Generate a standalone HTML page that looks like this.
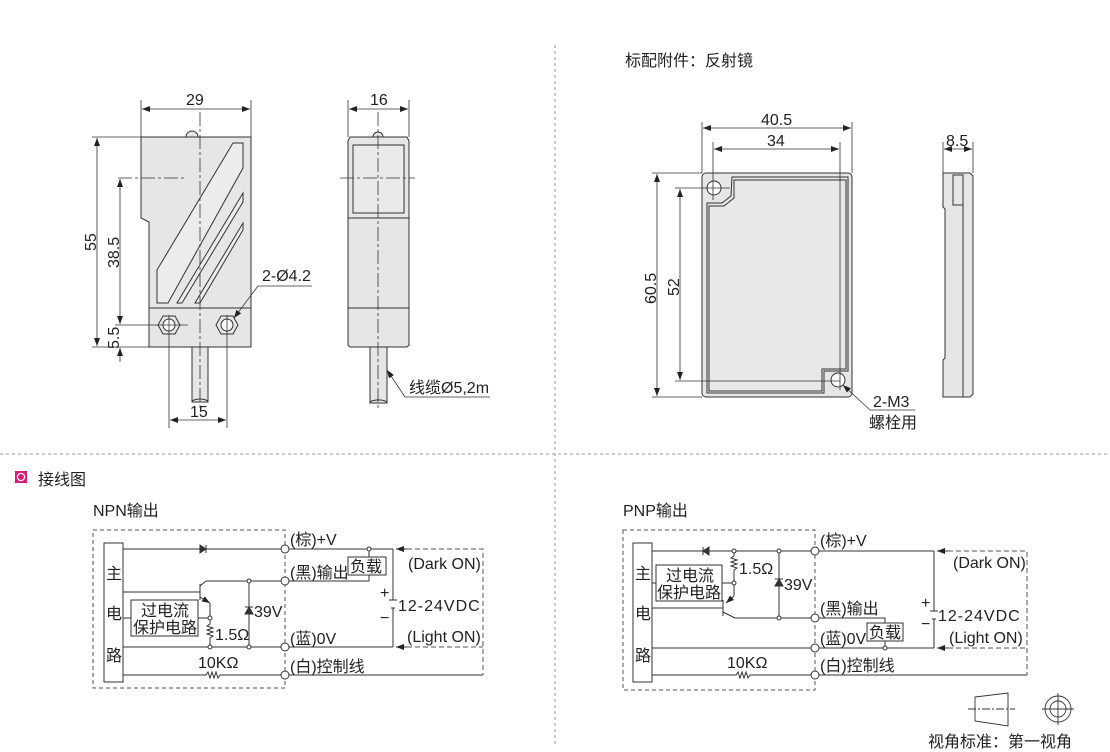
<!DOCTYPE html>
<html><head><meta charset="utf-8"><style>
html,body{margin:0;padding:0;background:#fff;}
svg{display:block;font-family:"Liberation Sans","Noto Sans CJK SC",sans-serif;}
text{fill:#222;font-size:16px;}
</style></head><body>
<svg width="1110" height="752" viewBox="0 0 1110 752" xmlns="http://www.w3.org/2000/svg">
<defs>
<marker id="a" markerWidth="8" markerHeight="6" refX="8" refY="3" orient="auto-start-reverse" markerUnits="userSpaceOnUse"><path d="M0,0 L8,3 L0,6 z" fill="#222"/></marker>
</defs>
<g stroke="#999" stroke-dasharray="3,3" fill="none">
<line x1="555" y1="45" x2="555" y2="745"/>
<line x1="0" y1="454" x2="1110" y2="454"/>
</g>

<!-- FRONT SENSOR -->
<g stroke="#333" stroke-width="1" fill="none">
<path d="M186,137 a6,6 0 0 1 12,0" fill="#e6e6e6"/>
<path d="M141,137 L251,137 L251,347 L149,347 L149,222 L141,218 Z" fill="#e6e6e6"/>
<line x1="149" y1="308" x2="251" y2="308"/>
<polygon points="157,270 233,143 243,143 243,168 168,303 157,303" fill="#ececec"/>
<polygon points="177,303 243,193 243,202 182,303" fill="#ececec"/>
<polygon points="195,303 243,223 243,230 200,303" fill="#ececec"/>
<polygon points="158,325 163,316 175,316 180,325 175,334 163,334" fill="#e6e6e6"/>
<circle cx="169" cy="325" r="6" fill="#fff"/>
<polygon points="216,325 221,316 233,316 238,325 233,334 221,334" fill="#e6e6e6"/>
<circle cx="227" cy="325" r="6" fill="#fff"/>
<rect x="192" y="347" width="16" height="55" fill="#e6e6e6"/>
<path d="M192,402 a8,3 0 0 1 16,0"/>
</g>
<g stroke="#333" stroke-width="0.8" fill="none">
<line x1="200" y1="112" x2="200" y2="410" stroke-dasharray="14,3,3,3"/>
<line x1="118" y1="178" x2="185" y2="178" stroke-dasharray="14,3,3,3"/>
<line x1="141" y1="100" x2="141" y2="137"/><line x1="251" y1="100" x2="251" y2="137"/>
<line x1="142" y1="109" x2="250" y2="109" marker-start="url(#a)" marker-end="url(#a)"/>
<line x1="92" y1="137" x2="141" y2="137"/><line x1="92" y1="347" x2="149" y2="347"/>
<line x1="97" y1="138" x2="97" y2="346" marker-start="url(#a)" marker-end="url(#a)"/>
<line x1="120" y1="179" x2="120" y2="324" marker-start="url(#a)" marker-end="url(#a)"/>
<line x1="115" y1="325" x2="188" y2="325"/>
<line x1="120" y1="362" x2="120" y2="348" marker-end="url(#a)"/>
<line x1="169" y1="315" x2="169" y2="428"/><line x1="227" y1="315" x2="227" y2="428"/>
<line x1="170" y1="420" x2="226" y2="420" marker-start="url(#a)" marker-end="url(#a)"/>
<line x1="312" y1="286" x2="258" y2="286"/><line x1="258" y1="286" x2="234" y2="318" marker-end="url(#a)"/>
</g>
<text x="186" y="105">29</text>
<text x="190" y="417">15</text>
<text transform="translate(96,251) rotate(-90)">55</text>
<text transform="translate(119,268) rotate(-90)">38.5</text>
<text transform="translate(119,349) rotate(-90)">5.5</text>
<text x="262" y="281">2-Ø4.2</text>

<!-- SIDE SENSOR -->
<g stroke="#333" stroke-width="1" fill="none">
<path d="M373,137 a5,5 0 0 1 10,0" fill="#e6e6e6"/>
<path d="M350,137 L407,137 L409,141 L409,345 L407,347 L350,347 L348,345 L348,141 Z" fill="#e6e6e6"/>
<rect x="353" y="145" width="51" height="68" fill="#eaeaea"/>
<line x1="348" y1="218" x2="409" y2="218"/>
<line x1="348" y1="308" x2="409" y2="308"/>
<rect x="370" y="347" width="17" height="56" fill="#e6e6e6"/>
<path d="M370,403 a8,3 0 0 1 17,0"/>
</g>
<g stroke="#333" stroke-width="0.8" fill="none">
<line x1="378" y1="112" x2="378" y2="410" stroke-dasharray="14,3,3,3"/>
<line x1="340" y1="178" x2="415" y2="178" stroke-dasharray="14,3,3,3"/>
<line x1="348" y1="100" x2="348" y2="137"/><line x1="409" y1="100" x2="409" y2="137"/>
<line x1="349" y1="109" x2="408" y2="109" marker-start="url(#a)" marker-end="url(#a)"/>
<line x1="490" y1="397" x2="405" y2="397"/><line x1="405" y1="397" x2="387" y2="370" marker-end="url(#a)"/>
</g>
<text x="370" y="105">16</text>
<text x="409" y="393">线缆Ø5,2m</text>

<!-- REFLECTOR -->
<text x="625" y="66" font-size="15.5">标配附件：反射镜</text>
<g stroke="#333" stroke-width="1" fill="none">
<rect x="702" y="173" width="150" height="224" rx="4" fill="#e6e6e6"/>
<path d="M709,206 L709,391 L822,391 L822,369 L846,369 L846,180 L734,180 L734,198 L724,206 Z" fill="#e8e8e8"/>
<path d="M707,203 L707,393 L824,393 L824,371 L848,371 L848,177 L732,177 L731,196 L722,203 Z"/>
<circle cx="714" cy="188" r="7" fill="#fff"/>
<circle cx="838" cy="380" r="7" fill="#fff"/>
<path d="M943,173 L970,173 L973,176 L973,394 L970,397 L943,397 L943,360 L945,358 L945,209 L943,207 Z" fill="#e6e6e6"/>
<line x1="963" y1="175" x2="963" y2="397"/>
<rect x="953" y="175" width="10" height="30"/>
</g>
<g stroke="#333" stroke-width="0.8" fill="none">
<line x1="702" y1="122" x2="702" y2="173"/><line x1="852" y1="122" x2="852" y2="173"/>
<line x1="703" y1="128" x2="851" y2="128" marker-start="url(#a)" marker-end="url(#a)"/>
<line x1="713" y1="142" x2="713" y2="200"/><line x1="840" y1="142" x2="840" y2="390"/>
<line x1="714" y1="149" x2="839" y2="149" marker-start="url(#a)" marker-end="url(#a)"/>
<line x1="652" y1="173" x2="702" y2="173"/><line x1="652" y1="397" x2="702" y2="397"/>
<line x1="657" y1="174" x2="657" y2="396" marker-start="url(#a)" marker-end="url(#a)"/>
<line x1="675" y1="188" x2="730" y2="188"/><line x1="675" y1="381" x2="840" y2="381"/>
<line x1="680" y1="189" x2="680" y2="380" marker-start="url(#a)" marker-end="url(#a)"/>
<line x1="943" y1="142" x2="943" y2="173"/><line x1="973" y1="142" x2="973" y2="173"/>
<line x1="944" y1="149" x2="972" y2="149" marker-start="url(#a)" marker-end="url(#a)"/>
<line x1="915" y1="410" x2="870" y2="410"/><line x1="870" y1="410" x2="843" y2="385" marker-end="url(#a)"/>
</g>
<text x="761" y="125">40.5</text>
<text x="767" y="146">34</text>
<text x="946" y="146">8.5</text>
<text transform="translate(656,304) rotate(-90)">60.5</text>
<text transform="translate(679,296) rotate(-90)">52</text>
<text x="873" y="407">2-M3</text>
<text x="869" y="428">螺栓用</text>

<!-- Wiring header -->
<rect x="15" y="471" width="12" height="12" fill="#d81b72"/>
<circle cx="21" cy="477" r="3.6" fill="none" stroke="#fff" stroke-width="1.3"/>
<text x="38" y="485" font-size="15.5">接线图</text>
<text x="93" y="516" font-size="15.5">NPN输出</text>
<text x="623" y="516" font-size="15.5">PNP输出</text>

<!-- NPN -->
<g stroke="#333" stroke-width="1" fill="none">
<rect x="93" y="530" width="192" height="158" stroke-dasharray="4,3" stroke="#555"/>
<rect x="104" y="543" width="19" height="139" fill="#fff"/>
<line x1="123" y1="549" x2="281" y2="549"/>
<path d="M206,545 L206,553 M206,549 L200,545 L200,553 Z" fill="#333"/>
<line x1="123" y1="592" x2="200" y2="592"/>
<line x1="200" y1="584" x2="200" y2="600"/>
<line x1="200" y1="586" x2="206" y2="581"/><line x1="206" y1="581" x2="281" y2="581"/>
<line x1="200" y1="597" x2="210" y2="603" marker-end="url(#a)"/><line x1="210" y1="603" x2="210" y2="618"/>
<rect x="131" y="600" width="67" height="36" fill="#fff"/>
<line x1="123" y1="618" x2="131" y2="618"/><line x1="198" y1="618" x2="210" y2="618"/>
<path d="M210,618 L210,624 l-3,2 6,2 -6,2 6,2 -6,2 6,2 -3,2 L210,647"/>
<line x1="123" y1="647" x2="281" y2="647"/>
<line x1="249" y1="581" x2="249" y2="647"/>
<path d="M245,607 L253,607 M249,607 L245,614 L253,614 Z" fill="#333"/>
<path d="M123,675 L206,675 l2,-3 2,6 2,-6 2,6 2,-6 2,6 2,-3 L281,675"/>
<line x1="289" y1="549" x2="393" y2="549"/>
<rect x="348" y="557" width="38" height="18" fill="#fff"/>
<line x1="369" y1="549" x2="369" y2="557"/>
<path d="M369,575 L369,581 L289,581"/>
<line x1="289" y1="647" x2="393" y2="647"/>
<line x1="289" y1="675" x2="483" y2="675"/>
<path d="M393,549 L393,600 M393,608 L393,647"/>
<line x1="389" y1="600" x2="397" y2="600"/><line x1="391" y1="608" x2="395" y2="608"/>
<line x1="407" y1="549" x2="396" y2="549" marker-end="url(#a)"/>
<line x1="407" y1="647" x2="396" y2="647" marker-end="url(#a)"/>
<path d="M407,549 L483,549 L483,675 M407,647 L483,647" stroke-dasharray="5,3" stroke="#555"/>
</g>
<g fill="#fff" stroke="#333"><circle cx="285" cy="549" r="4"/><circle cx="285" cy="581" r="4"/><circle cx="285" cy="647" r="4"/><circle cx="285" cy="675" r="4"/>
<circle cx="249" cy="581" r="2"/><circle cx="210" cy="618" r="2"/><circle cx="210" cy="647" r="2"/><circle cx="249" cy="647" r="2"/><circle cx="369" cy="549" r="2"/></g>
<text x="106" y="579">主</text><text x="106" y="619">电</text><text x="106" y="661">路</text>
<text x="141" y="616">过电流</text><text x="133" y="633">保护电路</text>
<text x="350" y="572">负载</text>
<text x="290" y="545">(棕)+V</text><text x="290" y="578">(黑)输出</text>
<text x="290" y="644">(蓝)0V</text><text x="290" y="672">(白)控制线</text>
<text x="254" y="617">39V</text><text x="215" y="640">1.5Ω</text><text x="198" y="668">10KΩ</text>
<text x="408" y="569">(Dark ON)</text><text x="407" y="642">(Light ON)</text>
<text x="380" y="598" font-size="14">+</text><text x="380" y="623" font-size="14">−</text>
<text x="398" y="611" letter-spacing="1">12-24VDC</text>

<!-- PNP -->
<g stroke="#333" stroke-width="1" fill="none">
<rect x="623" y="530" width="192" height="160" stroke-dasharray="4,3" stroke="#555"/>
<rect x="633" y="543" width="19" height="139" fill="#fff"/>
<line x1="652" y1="551" x2="811" y2="551"/>
<path d="M703,547 L703,555 M703,551 L709,547 L709,555 Z" fill="#333"/>
<path d="M734,551 L734,556 l-3,2 6,2 -6,2 6,2 -6,2 6,2 -3,2 L734,583"/>
<rect x="656" y="565" width="66" height="36" fill="#fff"/>
<line x1="652" y1="583" x2="656" y2="583"/><line x1="722" y1="583" x2="734" y2="583"/>
<line x1="734" y1="583" x2="734" y2="596"/><line x1="734" y1="596" x2="726" y2="603" marker-end="url(#a)"/>
<line x1="723" y1="600" x2="723" y2="616"/>
<line x1="652" y1="608" x2="723" y2="608"/>
<line x1="723" y1="612" x2="735" y2="618"/><line x1="735" y1="618" x2="811" y2="618"/>
<line x1="779" y1="551" x2="779" y2="618"/>
<path d="M775,579 L783,579 M779,579 L775,586 L783,586 Z" fill="#333"/>
<line x1="652" y1="648" x2="811" y2="648"/>
<path d="M652,675 L736,675 l2,-3 2,6 2,-6 2,6 2,-6 2,6 2,-3 L811,675"/>
<line x1="819" y1="551" x2="934" y2="551"/>
<path d="M819,618 L885,618 L885,623"/>
<rect x="867" y="623" width="36" height="18" fill="#fff"/>
<line x1="885" y1="641" x2="885" y2="648"/>
<line x1="819" y1="648" x2="934" y2="648"/>
<line x1="819" y1="675" x2="1027" y2="675"/>
<path d="M934,551 L934,611 M934,619 L934,648"/>
<line x1="930" y1="611" x2="938" y2="611"/><line x1="932" y1="619" x2="936" y2="619"/>
<line x1="948" y1="551" x2="937" y2="551" marker-end="url(#a)"/>
<line x1="948" y1="648" x2="937" y2="648" marker-end="url(#a)"/>
<path d="M948,551 L1027,551 L1027,675 M948,648 L1027,648" stroke-dasharray="5,3" stroke="#555"/>
</g>
<g fill="#fff" stroke="#333"><circle cx="815" cy="551" r="4"/><circle cx="815" cy="618" r="4"/><circle cx="815" cy="648" r="4"/><circle cx="815" cy="675" r="4"/>
<circle cx="734" cy="551" r="2"/><circle cx="779" cy="551" r="2"/><circle cx="734" cy="583" r="2"/><circle cx="779" cy="618" r="2"/><circle cx="885" cy="648" r="2"/></g>
<text x="635" y="579">主</text><text x="635" y="619">电</text><text x="635" y="661">路</text>
<text x="666" y="581">过电流</text><text x="657" y="598">保护电路</text>
<text x="869" y="638">负载</text>
<text x="820" y="546">(棕)+V</text><text x="820" y="614">(黑)输出</text>
<text x="820" y="644">(蓝)0V</text><text x="820" y="671">(白)控制线</text>
<text x="784" y="590">39V</text><text x="739" y="574">1.5Ω</text><text x="727" y="668">10KΩ</text>
<text x="953" y="568">(Dark ON)</text><text x="949" y="643">(Light ON)</text>
<text x="921" y="608" font-size="14">+</text><text x="921" y="629" font-size="14">−</text>
<text x="938" y="621" letter-spacing="1">12-24VDC</text>

<!-- view symbol -->
<g stroke="#333" stroke-width="0.9" fill="none">
<polygon points="975,697 1008,693 1008,726 975,721"/>
<line x1="968" y1="709" x2="1015" y2="709" stroke-dasharray="8,2,2,2"/>
<circle cx="1058" cy="709" r="13"/><circle cx="1058" cy="709" r="8"/>
<line x1="1042" y1="709" x2="1074" y2="709"/><line x1="1058" y1="693" x2="1058" y2="725"/>
</g>
<text x="928" y="747" font-size="17.5">视角标准：第一视角</text>
</svg>
</body></html>
